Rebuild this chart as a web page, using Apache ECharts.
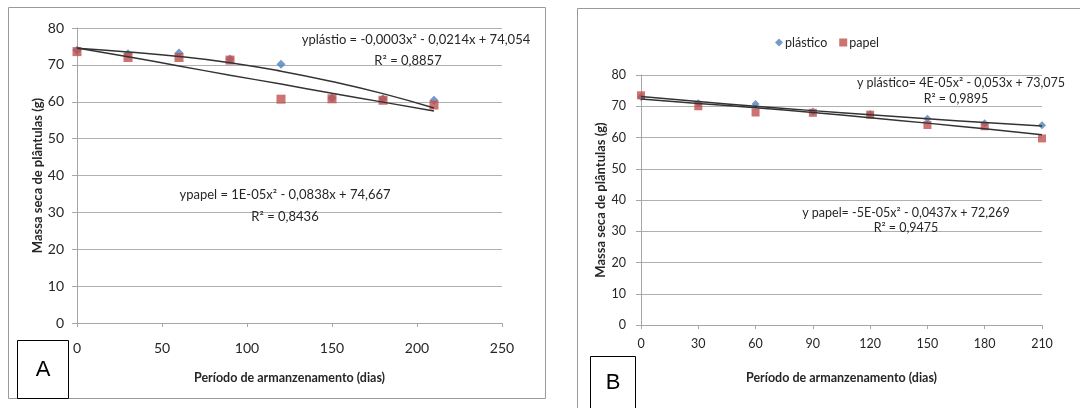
<!DOCTYPE html>
<html><head><meta charset="utf-8">
<script src="https://cdn.jsdelivr.net/npm/echarts/dist/echarts.min.js"></script>
<style>html,body{margin:0;padding:0;background:#fff}#c{width:1080px;height:408px}</style>
</head><body><div id="c"></div>
<script>
// ---- data ----
const daysA = [0, 30, 60, 90, 120, 150, 180, 210];
const plasticoA = [74.0, 73.0, 73.2, 71.6, 70.2, 61.0, 60.8, 60.4];
const papelA = [73.6, 72.0, 72.0, 71.3, 60.7, 60.8, 60.4, 59.1];
const trendPlasticoA = [74.5, 73.5, 72.3, 70.6, 68.3, 65.5, 62.2, 58.3];
const trendPapelA = [74.6, 72.2, 69.7, 67.2, 64.8, 62.3, 59.9, 57.5];

const daysB = [0, 30, 60, 90, 120, 150, 180, 210];
const plasticoB = [73.0, 71.0, 70.7, 68.3, 67.5, 66.0, 64.6, 63.9];
const papelB = [73.5, 70.0, 68.0, 67.9, 67.3, 64.0, 63.6, 59.7];
const trendPlasticoB = [73.1, 71.5, 70.0, 68.6, 67.3, 66.0, 64.8, 63.7];
const trendPapelB = [72.3, 70.9, 69.5, 68.0, 66.3, 64.6, 62.8, 60.9];

const seriesNames = ['plástico', 'papel'];
const xTitle = 'Período de armanzenamento (dias)';
const yTitle = 'Massa seca de plântulas (g)';
const eqA = ['yplástio = -0,0003x² - 0,0214x + 74,054', 'R² = 0,8857', 'ypapel = 1E-05x² - 0,0838x + 74,667', 'R² = 0,8436'];
const eqB = ['y plástico= 4E-05x² - 0,053x + 73,075', 'R² = 0,9895', 'y papel= -5E-05x² - 0,0437x + 72,269', 'R² = 0,9475'];
const panelLabels = ['A', 'B'];

// ---- styling ----
const FF = 'Lato, "Liberation Sans", sans-serif';
const TXT = '#262626';
const BLUE = '#4F81BD', RED = '#C0504D', TREND = '#333333';
const zip = (xs, ys) => xs.map((x, i) => [x, ys[i]]);

function xAxisCfg(grid, max, interval, margin, gap, fs) {
  return {
    gridIndex: grid, type: 'value', min: 0, max: max, interval: interval,
    axisLine: { show: true, lineStyle: { color: '#a6a6a6' } },
    axisTick: { show: true, length: 4, lineStyle: { color: '#a6a6a6' } },
    splitLine: { show: false },
    axisLabel: { margin: margin, color: TXT, fontSize: fs, fontFamily: FF },
    name: xTitle, nameLocation: 'middle', nameGap: gap,
    nameTextStyle: { color: TXT, fontSize: 12.5, fontWeight: 'bold', fontFamily: FF }
  };
}
function yAxisCfg(grid, margin, gap, fs) {
  return {
    gridIndex: grid, type: 'value', min: 0, max: 80, interval: 10,
    axisLine: { show: true, lineStyle: { color: '#a6a6a6' } },
    axisTick: { show: true, length: 5, lineStyle: { color: '#a6a6a6' } },
    splitLine: { show: true, lineStyle: { color: '#b0b0b0', width: 1 } },
    axisLabel: { margin: margin, color: TXT, fontSize: fs, fontFamily: FF },
    name: yTitle, nameLocation: 'middle', nameGap: gap, nameRotate: 90,
    nameTextStyle: { color: TXT, fontSize: 13, fontWeight: 'bold', fontFamily: FF }
  };
}
function scatter(name, xi, data, symbol, color, size, z) {
  return { name: name, type: 'scatter', xAxisIndex: xi, yAxisIndex: xi, data: data,
    symbol: symbol, symbolSize: size, itemStyle: { color: color }, z: z, silent: true };
}
function trend(xi, data) {
  return { type: 'line', xAxisIndex: xi, yAxisIndex: xi, data: data, smooth: true,
    showSymbol: false, symbol: 'none', lineStyle: { color: TREND, width: 1.5 }, z: 5, silent: true };
}
function txt(t, x, y, fs) {
  return { type: 'text', x: x, y: y, z: 20,
    style: { text: t, fill: TXT, font: (fs || 13) + 'px ' + FF, textAlign: 'center', textVerticalAlign: 'middle' } };
}

const chart = echarts.init(document.getElementById('c'), null, { renderer: 'canvas' });
chart.setOption({
  animation: false,
  backgroundColor: '#fff',
  grid: [
    { left: 77, top: 28, width: 425, height: 295 },
    { left: 641, top: 75, width: 401, height: 250 }
  ],
  legend: {
    left: 770, top: 31, itemWidth: 8, itemHeight: 8, itemGap: 12,
    textStyle: { color: TXT, fontSize: 12.5, fontFamily: FF, padding: [0, 0, 0, -3] },
    data: [{ name: seriesNames[0], icon: 'diamond' }, { name: seriesNames[1], icon: 'rect' }]
  },
  xAxis: [xAxisCfg(0, 250, 50, 18, 48, 14), xAxisCfg(1, 210, 30, 12, 46, 12.5)],
  yAxis: [yAxisCfg(0, 13, 33, 14), yAxisCfg(1, 15, 29, 12.5)],
  series: [
    scatter(seriesNames[0], 0, zip(daysA, plasticoA), 'diamond', BLUE, 9, 3),
    scatter(seriesNames[1], 0, zip(daysA, papelA), 'rect', RED, 9, 4),
    trend(0, zip(daysA, trendPlasticoA)),
    trend(0, zip(daysA, trendPapelA)),
    scatter(seriesNames[0], 1, zip(daysB, plasticoB), 'diamond', BLUE, 8, 3),
    scatter(seriesNames[1], 1, zip(daysB, papelB), 'rect', RED, 8, 4),
    trend(1, zip(daysB, trendPlasticoB)),
    trend(1, zip(daysB, trendPapelB))
  ],
  graphic: [
    { type: 'rect', z: 0, shape: { x: 8.5, y: 7.5, width: 537, height: 391 }, style: { fill: 'none', stroke: '#9a9a9a', lineWidth: 1 } },
    { type: 'rect', z: 0, shape: { x: 577.5, y: 8.5, width: 520, height: 420 }, style: { fill: 'none', stroke: '#9a9a9a', lineWidth: 1 } },
    { type: 'rect', z: 30, shape: { x: 17.5, y: 340.5, width: 51, height: 58 }, style: { fill: '#fff', stroke: '#000', lineWidth: 1 } },
    { type: 'rect', z: 30, shape: { x: 590.5, y: 356.5, width: 45, height: 60 }, style: { fill: '#fff', stroke: '#000', lineWidth: 1 } },
    { type: 'text', z: 31, x: 43, y: 370, style: { text: panelLabels[0], fill: '#000', font: '22px "Liberation Sans", Arial, sans-serif', textAlign: 'center', textVerticalAlign: 'middle' } },
    { type: 'text', z: 31, x: 613, y: 383, style: { text: panelLabels[1], fill: '#000', font: '22px "Liberation Sans", Arial, sans-serif', textAlign: 'center', textVerticalAlign: 'middle' } },
    txt(eqA[0], 416, 40), txt(eqA[1], 408, 61), txt(eqA[2], 285, 195), txt(eqA[3], 285, 217),
    txt(eqB[0], 961, 83, 12.5), txt(eqB[1], 956, 99, 12.5), txt(eqB[2], 906, 213, 12.5), txt(eqB[3], 906, 228, 12.5)
  ]
});
</script>
</body></html>
